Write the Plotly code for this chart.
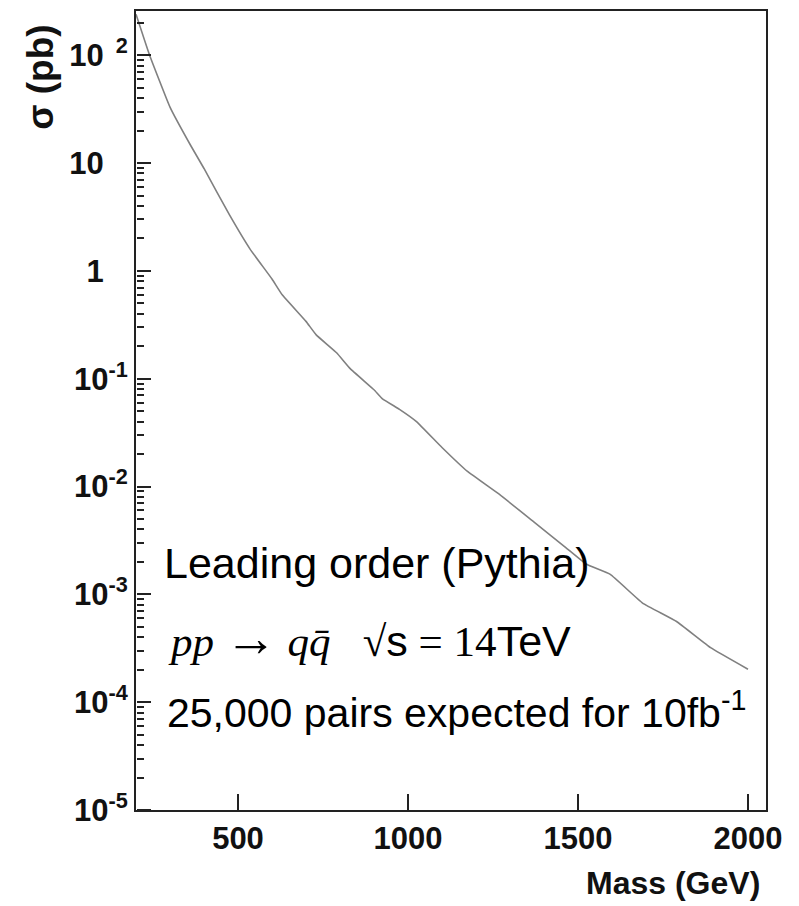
import plotly.graph_objects as go

# Data (Mass in GeV, cross-section in pb)
mass = [200, 240, 300, 360, 400, 475, 535, 600, 630, 700, 730, 790, 830, 900, 925,
        975, 1025, 1100, 1175, 1270, 1370, 1465, 1525, 1595, 1690, 1790, 1890, 2000]
sigma = [240, 100, 33, 14.7, 8.9, 3.3, 1.6, 0.84, 0.60, 0.34, 0.255, 0.174, 0.124,
         0.079, 0.065, 0.052, 0.040, 0.023, 0.0138, 0.0084, 0.0047, 0.0027, 0.0019,
         0.00153, 0.00083, 0.00056, 0.00032, 0.000202]

y_tickvals = [1e-5, 1e-4, 1e-3, 1e-2, 1e-1, 1, 10, 100]
NB = "\u00a0"
y_ticktext = ["10<sup>-5</sup>", "10<sup>-4</sup>", "10<sup>-3</sup>", "10<sup>-2</sup>",
              "10<sup>-1</sup>", "1<sup>" + NB * 4 + "</sup>", "10<sup>" + NB * 4 + "</sup>",
              "10<sup>" + NB * 2 + "2</sup>"]
x_tickvals = [500, 1000, 1500, 2000]
x_ticktext = ["500", "1000", "1500", "2000"]

minor_vals = [m * 10 ** e for e in range(-5, 3) for m in range(2, 10)]

BOLD = "Liberation Sans, Arial, sans-serif"
REG = "Liberation Sans, Arial, sans-serif"

W, H = 799, 906
L, R, T, B = 136, 33, 9, 96
PW, PH = W - L - R, H - T - B
XR = [200, 2053]
YR = [-5, 2.41]
AX = "#222222"


def px(x):
    return (x - L) / PW


def py(y):
    return (H - B - y) / PH


fig = go.Figure()
fig.add_trace(go.Scatter(x=mass, y=sigma, mode="lines",
                         line=dict(color="#808080", width=1.6, shape="spline", smoothing=0.3),
                         showlegend=False, hoverinfo="skip"))
# helper traces (invisible) so the tick-only overlay axes get drawn
fig.add_trace(go.Scatter(x=[mass[0]], y=[sigma[0]], xaxis="x2", yaxis="y2", mode="lines",
                         line=dict(width=0), showlegend=False, hoverinfo="skip"))
fig.add_trace(go.Scatter(x=[mass[0]], y=[sigma[0]], xaxis="x", yaxis="y3", mode="lines",
                         line=dict(width=0), showlegend=False, hoverinfo="skip"))

fig.update_layout(
    width=W, height=H,
    margin=dict(l=L, r=R, t=T, b=B),
    paper_bgcolor="white", plot_bgcolor="white",
    showlegend=False,
    xaxis=dict(range=XR, showgrid=False, zeroline=False,
               showline=True, linecolor=AX, linewidth=2, mirror=True,
               ticks="", tickmode="array", tickvals=x_tickvals, ticktext=x_ticktext,
               tickfont=dict(family=BOLD, size=31, color="#111111", weight="bold")),
    yaxis=dict(type="log", range=YR, showgrid=False, zeroline=False,
               showline=True, linecolor=AX, linewidth=2, mirror=True,
               ticks="", tickmode="array", tickvals=y_tickvals, ticktext=y_ticktext,
               tickfont=dict(family=BOLD, size=31, color="#111111", weight="bold")),
    # major x ticks pointing into the frame
    xaxis2=dict(range=XR, overlaying="x", side="top", anchor="free", position=0,
                showgrid=False, zeroline=False, showline=False,
                ticks="outside", ticklen=16, tickwidth=1.5, tickcolor=AX,
                tickmode="array", tickvals=x_tickvals, showticklabels=False),
    # major y ticks pointing into the frame
    yaxis2=dict(type="log", range=YR, overlaying="y", side="right", anchor="free", position=0,
                showgrid=False, zeroline=False, showline=False,
                ticks="outside", ticklen=14, tickwidth=1.5, tickcolor=AX,
                tickmode="array", tickvals=y_tickvals, showticklabels=False),
    # minor y ticks pointing into the frame
    yaxis3=dict(type="log", range=YR, overlaying="y", side="right", anchor="free", position=0,
                showgrid=False, zeroline=False, showline=False,
                ticks="outside", ticklen=7, tickwidth=1.5, tickcolor=AX,
                tickmode="array", tickvals=minor_vals, showticklabels=False),
)

ann = [
    dict(text="σ (pb)", x=px(41), y=py(76), textangle=-90,
         font=dict(family=BOLD, size=37, color="#111111", weight="bold"),
         xanchor="center", yanchor="middle"),
    dict(text="Mass (GeV)", x=px(762), y=py(883),
         font=dict(family=BOLD, size=32, color="#111111", weight="bold"),
         xanchor="right", yanchor="middle"),
    dict(text="Leading order (Pythia)", x=px(162), y=py(562),
         font=dict(family=REG, size=43, color="#000000"),
         xanchor="left", yanchor="middle"),
    dict(text=("<span style=\"font-family:'Liberation Serif'\"><i>pp</i> "
               "<span style=\"font-size:52px\">→</span> <i>q</i><i>q̄</i>"
               + NB * 3 + "√</span>s<span style=\"font-family:'Liberation Serif'\"> = 14</span>TeV"),
         x=px(166), y=py(638),
         font=dict(family=REG, size=43, color="#000000"),
         xanchor="left", yanchor="middle"),
    dict(text="25,000 pairs expected for 10fb<sup>-1</sup>", x=px(165), y=py(710),
         font=dict(family=REG, size=41, color="#000000"),
         xanchor="left", yanchor="middle"),
]
for a in ann:
    a.update(xref="paper", yref="paper", showarrow=False)
    fig.add_annotation(**a)

fig.write_html("out.html")
